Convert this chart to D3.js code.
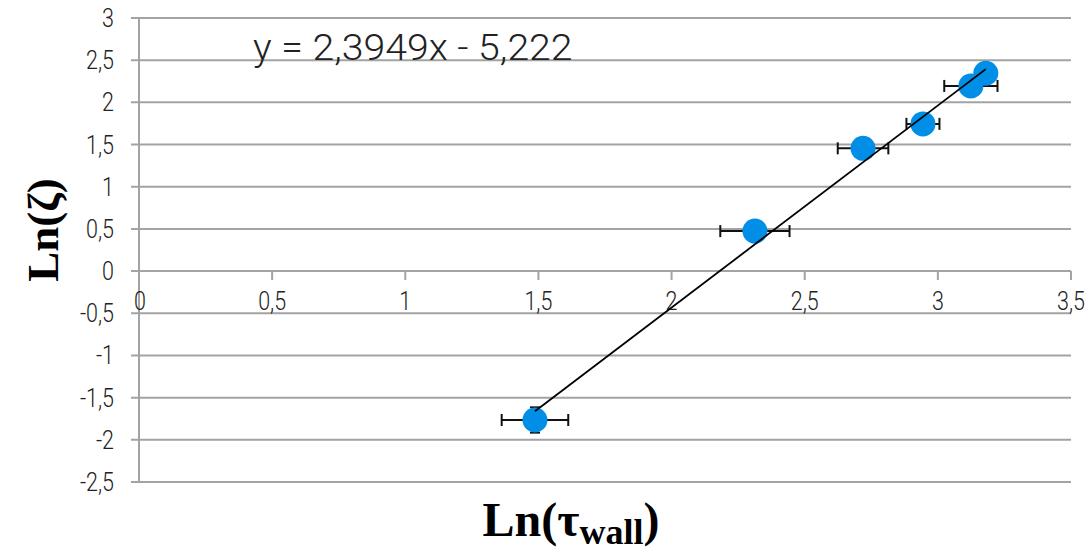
<!DOCTYPE html>
<html>
<head>
<meta charset="utf-8">
<script src="https://cdn.jsdelivr.net/npm/d3@7"></script>
<style>
  html, body { margin: 0; padding: 0; background: #fff; }
  svg { display: block; }
  .light { font-family: Roboto, "DejaVu Sans", sans-serif; font-weight: 300; fill: #222; }
</style>
</head>
<body>
<svg id="chart" width="1086" height="555"></svg>
<script>
// Ln(tau_wall) values, Ln(zeta) values and their error bars
const lnTau = [1.487, 2.313, 2.719, 2.944, 3.124, 3.180];
const lnZeta = [-1.765, 0.474, 1.455, 1.745, 2.195, 2.345];
const xErr = [0.125, 0.13, 0.095, 0.062, 0.1, 0.0];
const yErr = [0.15, 0.08, 0.08, 0.08, 0.08, 0.08];

// Linear fit shown on the chart
const slope = 2.3949;
const intercept = -5.222;
const equationText = "y = 2,3949x - 5,222";

const xTicks = [0, 0.5, 1, 1.5, 2, 2.5, 3, 3.5];
const yTicks = [-2.5, -2, -1.5, -1, -0.5, 0, 0.5, 1, 1.5, 2, 2.5, 3];
const fmt = v => String(v).replace(".", ",");

const svg = d3.select("#chart");
const x = d3.scaleLinear().domain([0, 3.5]).range([139, 1071]);
const y = d3.scaleLinear().domain([-2.5, 3]).range([482, 18]);

const gridColor = "#a3a3a3";

// light text with horizontal scaling
function label(parent, px, py, txt, size, anchor, sx) {
  parent.append("g")
    .attr("transform", `translate(${px},${py}) scale(${sx},1)`)
    .append("text").attr("class", "light")
    .attr("font-size", size).attr("text-anchor", anchor)
    .text(txt);
}

// horizontal gridlines
svg.append("g").selectAll("line").data(yTicks).join("line")
  .attr("x1", x(0) - 8).attr("x2", x(3.5))
  .attr("y1", d => y(d)).attr("y2", d => y(d))
  .attr("stroke", gridColor).attr("stroke-width", 2);

// vertical axis
svg.append("line")
  .attr("x1", x(0)).attr("x2", x(0))
  .attr("y1", y(3)).attr("y2", y(-2.5))
  .attr("stroke", gridColor).attr("stroke-width", 2);

// x tick marks crossing below the y = 0 axis
svg.append("g").selectAll("line").data(xTicks.slice(1)).join("line")
  .attr("x1", d => x(d)).attr("x2", d => x(d))
  .attr("y1", y(0)).attr("y2", y(0) + 9)
  .attr("stroke", gridColor).attr("stroke-width", 2);

// y tick labels
const yl = svg.append("g");
yTicks.forEach(d => label(yl, x(0) - 25, y(d) + 9, fmt(d), 25, "end", 0.86));

// x tick labels
const xl = svg.append("g");
xTicks.forEach(d => label(xl, x(d) + (d === 0 ? 1 : 0), y(0) + 39, fmt(d), 25, "middle", 0.86));

const xMin = d3.min(lnTau), xMax = d3.max(lnTau);
const pts = lnTau.map((v, i) => ({ x: v, y: lnZeta[i], ex: xErr[i], ey: yErr[i] }));

// error bars
const eb = svg.append("g").attr("stroke", "#111").attr("stroke-width", 2);
pts.filter(d => d.ex > 0).forEach(d => {
  eb.append("line").attr("x1", x(d.x - d.ex)).attr("x2", x(d.x + d.ex))
    .attr("y1", y(d.y)).attr("y2", y(d.y));
  [d.x - d.ex, d.x + d.ex].forEach(v => {
    eb.append("line").attr("x1", x(v)).attr("x2", x(v))
      .attr("y1", y(d.y) - 6).attr("y2", y(d.y) + 6);
  });
});
pts.forEach(d => {
  [d.y - d.ey, d.y + d.ey].forEach(v => {
    eb.append("line").attr("x1", x(d.x) - 5).attr("x2", x(d.x) + 5)
      .attr("y1", y(v)).attr("y2", y(v));
  });
});

// markers (cover the error bar stems)
svg.append("g").selectAll("circle").data(pts).join("circle")
  .attr("cx", d => x(d.x)).attr("cy", d => y(d.y)).attr("r", 12.5)
  .attr("fill", "#008ee6");

// trend line over the data range
svg.append("line")
  .attr("x1", x(xMin)).attr("y1", y(slope * xMin + intercept))
  .attr("x2", x(xMax)).attr("y2", y(slope * xMax + intercept))
  .attr("stroke", "#000").attr("stroke-width", 1.8);

// equation
label(svg, 253, 60, equationText, 37, "start", 1.06);

// axis titles
svg.append("text")
  .attr("transform", "translate(58,230) rotate(-90)")
  .attr("text-anchor", "middle")
  .attr("font-family", "\"Liberation Serif\", \"DejaVu Serif\", serif")
  .attr("font-weight", "bold").attr("font-size", 45).attr("fill", "#000")
  .text("Ln(ζ)");

const xt = svg.append("text")
  .attr("x", 571).attr("y", 536)
  .attr("text-anchor", "middle")
  .attr("font-family", "\"Liberation Serif\", \"DejaVu Serif\", serif")
  .attr("font-weight", "bold").attr("font-size", 48).attr("fill", "#000");
xt.append("tspan").text("Ln(τ");
xt.append("tspan").attr("font-size", 36).attr("dy", 8).text("wall");
xt.append("tspan").attr("dy", -8).text(")");
</script>
</body>
</html>
